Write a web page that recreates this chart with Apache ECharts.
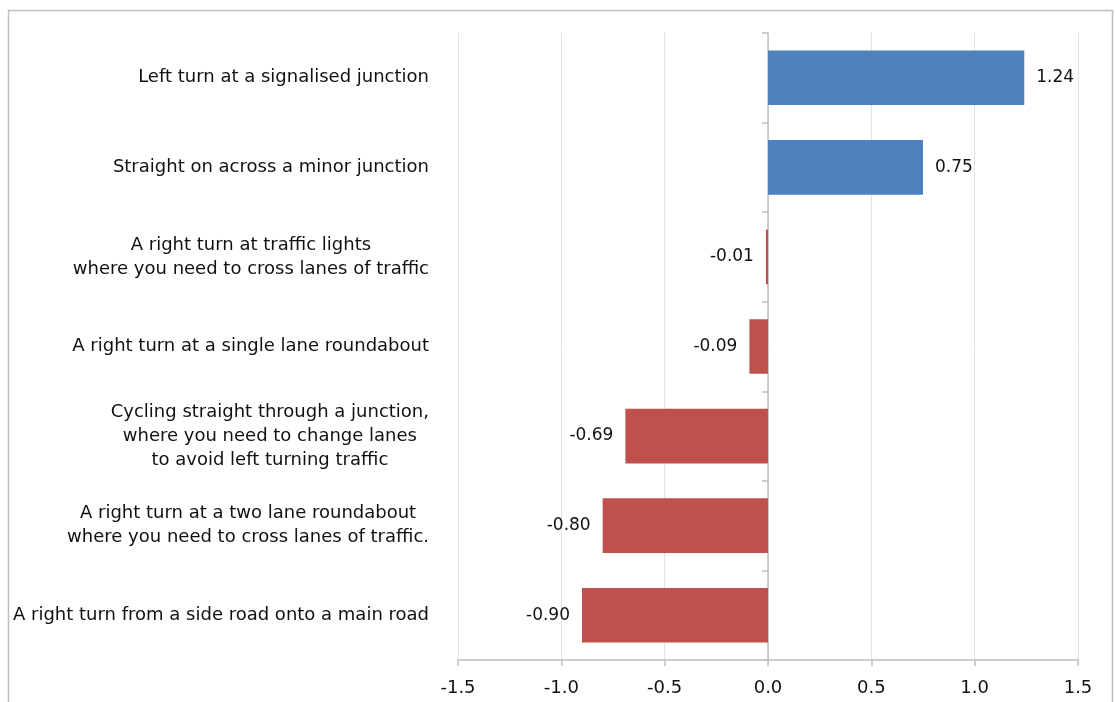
<!DOCTYPE html>
<html>
<head>
<meta charset="utf-8">
<script src="https://cdn.jsdelivr.net/npm/echarts@6/dist/echarts.min.js"></script>
<style>
  html, body { margin: 0; padding: 0; background: #fff; }
  #main { width: 1115px; height: 702px; }
</style>
</head>
<body>
<div id="main"></div>
<script>
// categories, bottom to top (echarts category y axis starts from bottom)
var categories = [
  "A right turn from a side road onto a main road",
  "A right turn at a two lane roundabout\nwhere you need to cross lanes of traffic.",
  "Cycling straight through a junction,\nwhere you need to change lanes\nto avoid left turning traffic",
  "A right turn at a single lane roundabout",
  "A right turn at traffic lights\nwhere you need to cross lanes of traffic",
  "Straight on across a minor junction",
  "Left turn at a signalised junction"
];
var values = [-0.90, -0.80, -0.69, -0.09, -0.01, 0.75, 1.24];
var xTicks = [-1.5, 1.5, 0.5]; // min, max, step

var posColor = "#4F81BD";
var negColor = "#C0504D";
var fontFam = "DejaVu Sans";

var barData = values.map(function (v) {
  return {
    value: v,
    itemStyle: { color: v >= 0 ? posColor : negColor },
    label: { position: v >= 0 ? "right" : "left" }
  };
});

var myChart = echarts.init(document.getElementById("main"));
var option = {
  animation: false,
  backgroundColor: "#fff",
  graphic: [{
    type: "rect",
    shape: { x: 8.5, y: 10.5, width: 1104, height: 720 },
    style: { fill: "none", stroke: "#BFBFBF", lineWidth: 1.5 },
    silent: true
  }],
  grid: { left: 458, right: 37, top: 33, bottom: 42 },
  xAxis: {
    type: "value",
    min: xTicks[0],
    max: xTicks[1],
    interval: xTicks[2],
    axisLine: { show: true, onZero: false, lineStyle: { color: "#BFBFBF", width: 1.5 } },
    axisTick: { show: true, length: 6, lineStyle: { color: "#BFBFBF", width: 1.5 } },
    splitLine: { show: true, lineStyle: { color: "#E3E3E3", width: 1 } },
    axisLabel: {
      color: "#111",
      fontFamily: fontFam,
      fontSize: 18,
      margin: 19,
      formatter: function (v) { return v.toFixed(1); }
    }
  },
  yAxis: [{
    type: "category",
    data: categories,
    position: "left",
    offset: 21,
    axisLine: { show: false, onZero: false },
    axisTick: { show: false },
    axisLabel: {
      color: "#111",
      fontFamily: fontFam,
      fontSize: 18,
      lineHeight: 24,
      formatter: function (v) {
        return v.split("\n").map(function (l) { return "{c|" + l + "}"; }).join("\n");
      },
      rich: { c: { align: "center", fontFamily: fontFam, fontSize: 18, lineHeight: 24, color: "#111" } }
    }
  }, {
    type: "category",
    data: categories,
    position: "left",
    axisLine: { show: true, onZero: true, lineStyle: { color: "#BFBFBF", width: 1.5 } },
    axisTick: { show: true, length: 6, lineStyle: { color: "#BFBFBF", width: 1.5 } },
    axisLabel: { show: false }
  }],
  series: [{
    type: "bar",
    yAxisIndex: 0,
    data: barData,
    barWidth: "61%",
    z: 1,
    label: {
      show: true,
      distance: 12,
      color: "#111",
      fontFamily: fontFam,
      fontSize: 17,
      formatter: function (p) { return p.value.toFixed(2); }
    }
  }]
};
option && myChart.setOption(option);
</script>
</body>
</html>
